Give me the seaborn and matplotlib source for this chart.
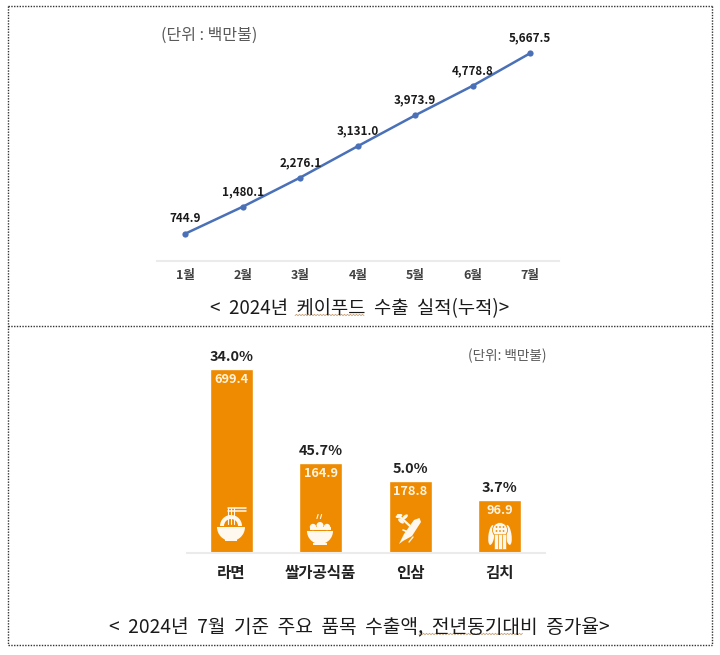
#!/usr/bin/env python3
# -*- coding: utf-8 -*-
import matplotlib
matplotlib.use('Agg')
import matplotlib.pyplot as plt
from matplotlib.lines import Line2D
from matplotlib.patches import Circle, Ellipse, Polygon, Rectangle, Wedge
import numpy as np
import seaborn as sns

# cumulative exports
months = ['1월', '2월', '3월', '4월', '5월', '6월', '7월']
cumulative = [744.9, 1480.1, 2276.1, 3131.0, 3973.9, 4778.8, 5667.5]

# main items. the bars in the source are not to scale, so heights are read off separately
items = ['라면', '쌀가공식품', '인삼', '김치']
export_values = [699.4, 164.9, 178.8, 96.9]
growth_rates = [34.0, 45.7, 5.0, 3.7]
bar_heights = [184, 90, 72, 53]

W, H = 720, 655
ORANGE = '#EE8B00'
BLUE = '#4A70B8'

sns.set_theme(style='white')
plt.rcParams['font.family'] = ['Noto Sans CJK KR', 'DejaVu Sans']

fig = plt.figure(figsize=(W / 100, H / 100), dpi=100, facecolor='white')


def add_axes_px(x0, y0, x1, y1):
    """Axes from pixel box, y counted from the top of the image"""
    return fig.add_axes([x0 / W, 1 - y1 / H, (x1 - x0) / W, (y1 - y0) / H])


# page layer in pixel coordinates: frame, captions, icons
page = add_axes_px(0, 0, W, H)
page.set_xlim(0, W)
page.set_ylim(H, 0)
page.axis('off')

# line chart
ax1 = add_axes_px(156.5, 20, 559, 261)
ax1.patch.set_alpha(0)
sns.lineplot(x=months, y=cumulative, sort=False, color=BLUE, linewidth=1.8,
             marker='o', markersize=4.5, markeredgewidth=0, ax=ax1)
ax1.set_xlim(-0.5, 6.5)
ax1.set_ylim(0, 6572)
ax1.set_yticks([])
ax1.set_xlabel('')
ax1.set_ylabel('')
ax1.tick_params(axis='x', length=0, pad=6, labelsize=9, labelcolor='#404040')
for label in ax1.get_xticklabels():
    label.set_fontweight('bold')
sns.despine(ax=ax1, left=True)
ax1.spines['bottom'].set_color('#EBEBEB')
ax1.spines['bottom'].set_linewidth(1.5)
for i, v in enumerate(cumulative):
    ax1.annotate(f'{v:,.1f}', (i, v), xytext=(0, 10.8), textcoords='offset points',
                 ha='center', va='center', fontsize=8.4, fontweight='bold', color='#1A1A1A')

# bar chart
ax2 = add_axes_px(186.5, 340, 544.5, 552.5)
ax2.patch.set_alpha(0)
sns.barplot(x=items, y=bar_heights, color=ORANGE, saturation=1, width=0.475, ax=ax2)
ax2.set_xlim(-0.5, 3.5)
ax2.set_ylim(0, 212.5)
ax2.set_yticks([])
ax2.set_xlabel('')
ax2.set_ylabel('')
ax2.tick_params(axis='x', length=0, pad=9, labelsize=11.2, labelcolor='#222222')
for label in ax2.get_xticklabels():
    label.set_fontweight('bold')
sns.despine(ax=ax2, left=True)
ax2.spines['bottom'].set_color('#EBEBEB')
ax2.spines['bottom'].set_linewidth(1.5)
for i, (h, val, rate) in enumerate(zip(bar_heights, export_values, growth_rates)):
    ax2.annotate(f'{rate:.1f}%', (i, h), xytext=(0, 8), textcoords='offset points',
                 ha='center', va='center', fontsize=10.4, fontweight='bold', color='#222222')
    ax2.annotate(f'{val:.1f}', (i, h), xytext=(0, -8), textcoords='offset points',
                 ha='center', va='center', fontsize=9.2, fontweight='bold', color='#FFF4E0')

# unit notes and captions
page.text(209, 35, '(단위 : 백만불)', ha='center', va='center', fontsize=11.5, color='#595959')
page.text(507, 356, '(단위: 백만불)', ha='center', va='center', fontsize=9.8, color='#595959')
page.text(359.5, 309, '<  2024년  케이푸드  수출  실적(누적)>', ha='center', va='center',
          fontsize=13.5, color='#1A1A1A')
page.text(359.5, 627, '<  2024년  7월  기준  주요  품목  수출액,  전년동기대비  증가율>',
          ha='center', va='center', fontsize=13.8, color='#1A1A1A')

# spell-check squiggles under two words
for x0, x1, y in [(295, 364, 315), (419, 522, 634)]:
    xs = np.arange(x0, x1 + 1, 1.5)
    ys = y + 0.7 * (-1.0) ** np.arange(len(xs))
    page.plot(xs, ys, color='#C9A27A', linewidth=0.6)

# dotted frame
frame_style = dict(color='#333333', linewidth=1.0, linestyle=(0, (1, 1)))
for x0, y0, x1, y1 in [(7.5, 6, 712, 6), (7.5, 326, 712, 326), (7.5, 645, 712, 645),
                       (7.5, 6, 7.5, 645), (712, 6, 712, 645)]:
    page.add_line(Line2D([x0, x1], [y0, y1], **frame_style))

# icons, drawn above the bars
icons = fig.add_axes(page.get_position(), zorder=5)
icons.set_xlim(0, W)
icons.set_ylim(H, 0)
icons.axis('off')
WHITE = '#FFF8EE'

# noodle bowl
icons.add_patch(Wedge((231, 527), 14, 0, 180, fc=WHITE, ec='none'))
icons.add_patch(Rectangle((225, 539), 12, 2, fc=WHITE, ec='none'))
icons.add_patch(Wedge((231, 526), 11, 180, 360, fc=WHITE, ec='none'))
icons.add_patch(Wedge((231, 526), 7, 180, 360, fc=ORANGE, ec='none'))
for y in [508, 511]:
    icons.plot([228, 246], [y, y], color=WHITE, linewidth=1.1)
for x in [228, 231, 234]:
    icons.plot([x, x], [508, 524], color=WHITE, linewidth=0.8)

# rice bowl
icons.add_patch(Wedge((320, 531), 13, 0, 180, fc=WHITE, ec='none'))
icons.add_patch(Rectangle((313, 543), 14, 1.5, fc=WHITE, ec='none'))
for x, y, r in [(313, 527, 3.2), (320, 525.5, 3.5), (327, 527, 3.2)]:
    icons.add_patch(Circle((x, y), r, fc=WHITE, ec='none'))
icons.add_patch(Rectangle((309.5, 527), 21, 3, fc=WHITE, ec='none'))
for x in [317.5, 321]:
    icons.plot([x - 0.6, x + 0.6], [518.5, 514.5], color=WHITE, linewidth=0.8)

# ginseng
icons.add_patch(Polygon([(419.5, 518), (421, 522), (412, 536), (403, 541), (399, 544),
                         (404, 534), (414, 520)], fc=WHITE, ec='none'))
icons.plot([408, 403], [532, 530], color=WHITE, linewidth=1.2)
icons.plot([413, 409], [537, 542], color=WHITE, linewidth=1.0)
icons.plot([410, 398], [526, 515], color=WHITE, linewidth=1.6)
for x, y, a in [(401, 521, 40), (405, 517, -40), (399, 516, -20)]:
    icons.add_patch(Ellipse((x, y), 7, 3.4, angle=a, fc=WHITE, ec='none'))

# kimchi
icons.add_patch(Ellipse((491.5, 535), 6, 20, angle=8, fc=WHITE, ec='none'))
icons.add_patch(Ellipse((508.5, 535), 6, 20, angle=-8, fc=WHITE, ec='none'))
icons.add_patch(Ellipse((500, 530), 15, 15, fc=WHITE, ec=ORANGE, linewidth=0.6))
for x in [496, 500, 504]:
    icons.add_patch(Rectangle((x - 1.6, 534), 3.2, 15, fc=WHITE, ec=ORANGE, linewidth=0.4))
for x, y in [(496.5, 527), (500, 527), (503.5, 527), (496.5, 531), (500, 531), (503.5, 531)]:
    icons.add_patch(Circle((x, y), 0.9, fc=ORANGE, ec='none'))

fig.savefig('out.png', dpi=100)
plt.close(fig)
